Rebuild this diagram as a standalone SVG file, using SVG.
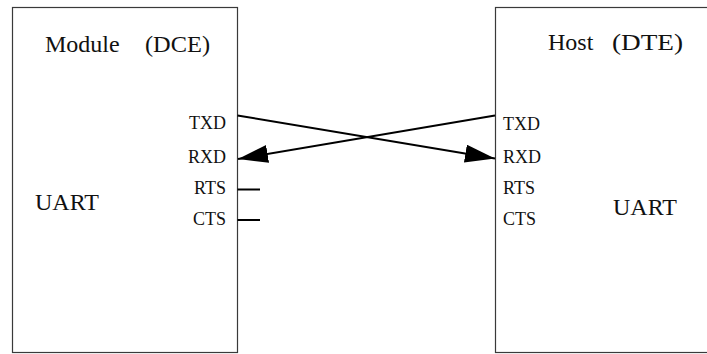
<svg xmlns="http://www.w3.org/2000/svg" width="707" height="354" viewBox="0 0 707 354">
<defs>
<style>
.box{fill:#fff;stroke:#3a3a3a;stroke-width:1.2}
.t{font-family:"Liberation Serif","Times New Roman",serif;fill:#111}
.big{font-size:24px}
.sig{font-size:18px}
.wire{stroke:#000;stroke-width:2;fill:none}
</style>
<marker id="arr" markerUnits="userSpaceOnUse" markerWidth="32" markerHeight="20" refX="30" refY="9" orient="auto">
<path d="M0,0 L30,9 L0,18 Z" fill="#000"/>
</marker>
</defs>
<rect width="707" height="354" fill="#fff"/>
<g id="module">
<rect class="box" x="12.5" y="7.5" width="225" height="345"/>
<text class="t big" x="45" y="51.5">Module</text>
<text class="t big" x="145" y="51.5" textLength="65" lengthAdjust="spacingAndGlyphs">(DCE)</text>
<text class="t big" x="35" y="209.5">UART</text>
<g text-anchor="end">
<text class="t sig" x="226" y="129">TXD</text>
<text class="t sig" x="226" y="162.5">RXD</text>
<text class="t sig" x="226" y="193.5">RTS</text>
<text class="t sig" x="226" y="224.5">CTS</text>
</g>
</g>
<g id="host">
<rect class="box" x="495.5" y="7.5" width="220" height="345"/>
<text class="t big" x="548" y="49.5">Host</text>
<text class="t big" x="612" y="49.5" textLength="71" lengthAdjust="spacingAndGlyphs">(DTE)</text>
<text class="t big" x="613" y="215">UART</text>
<text class="t sig" x="503" y="129.5">TXD</text>
<text class="t sig" x="503" y="163">RXD</text>
<text class="t sig" x="503" y="194">RTS</text>
<text class="t sig" x="503" y="225">CTS</text>
</g>
<g id="connectors">
<line class="wire" x1="237.5" y1="115.5" x2="495" y2="158.5" marker-end="url(#arr)"/>
<line class="wire" x1="495" y1="115.5" x2="238" y2="159" marker-end="url(#arr)"/>
<line class="wire" x1="237.5" y1="189.5" x2="260" y2="189.5"/>
<line class="wire" x1="237.5" y1="220" x2="260" y2="220"/>
</g>
</svg>
